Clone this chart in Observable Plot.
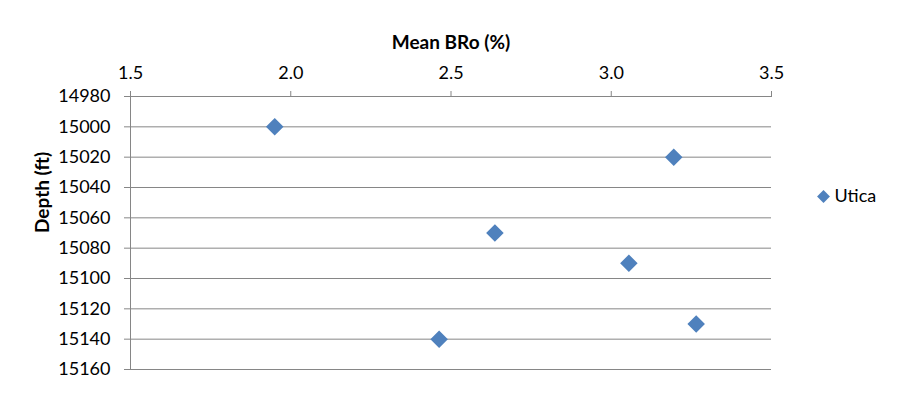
<!DOCTYPE html>
<html>
<head>
<meta charset="utf-8">
<script src="https://cdn.jsdelivr.net/npm/d3@7"></script>
<script src="https://cdn.jsdelivr.net/npm/@observablehq/plot@0.6"></script>
<style>
  html, body { margin: 0; padding: 0; background: #fff; }
  #chart svg { display: block; }
</style>
</head>
<body>
<div id="chart"></div>
<script>
const series = "Utica";
const meanBRo = [1.95, 3.195, 2.637, 3.055, 3.265, 2.463];
const depthFt = [15000, 15020, 15070, 15090, 15130, 15140];
const xTicks = [1.5, 2.0, 2.5, 3.0, 3.5];
const yTicks = [14980, 15000, 15020, 15040, 15060, 15080, 15100, 15120, 15140, 15160];
const xTitle = "Mean BRo (%)";
const yTitle = "Depth (ft)";

const data = meanBRo.map((v, i) => ({ x: v, y: depthFt[i], series }));
const color = "#4F81BD";
const grid = "#868686";
const font = "Lato, 'Open Sans', sans-serif";

const chart = Plot.plot({
  width: 900,
  height: 393,
  marginLeft: 130,
  marginRight: 129,
  marginTop: 96,
  marginBottom: 24,
  style: { fontFamily: font, fontSize: "18px", color: "#000", background: "#fff" },
  x: { domain: [1.5, 3.5], axis: null },
  y: { domain: [14980, 15160], reverse: true, axis: null },
  marks: [
    Plot.gridY(yTicks, { stroke: grid, strokeOpacity: 1, strokeWidth: 1 }),
    Plot.ruleX([1.5], { stroke: grid, strokeWidth: 1 }),
    Plot.axisX(xTicks, {
      anchor: "top", tickSize: 6, tickPadding: 12, stroke: grid,
      tickFormat: d3.format(".1f"), label: null, fontSize: 18, fill: "#000"
    }),
    Plot.ruleY([14980], { stroke: grid, strokeWidth: 1 }),
    Plot.axisY(yTicks, {
      anchor: "left", tickSize: 6, tickPadding: 14, stroke: grid,
      tickFormat: d3.format("d"), label: null, fontSize: 18, fill: "#000"
    }),
    Plot.dot(data, {
      x: "x", y: "y", symbol: "diamond2", r: 7.9, fill: color, stroke: null
    }),
    Plot.text([xTitle], {
      frameAnchor: "top", dy: -54, lineAnchor: "middle", text: d => d, fontWeight: "bold", fontSize: 19, fill: "#000"
    }),
    Plot.text([yTitle], {
      frameAnchor: "left", dx: -88, rotate: -90, lineAnchor: "middle", text: d => d, fontWeight: "bold", fontSize: 19, fill: "#000"
    }),
    Plot.dot([series], {
      frameAnchor: "top-right", dx: 52, dy: 100, symbol: "diamond2", r: 5.8, fill: color, stroke: null
    }),
    Plot.text([series], {
      frameAnchor: "top-right", dx: 63, dy: 100, lineAnchor: "middle", text: d => d, textAnchor: "start", fontSize: 18, fill: "#000"
    })
  ]
});
document.getElementById("chart").appendChild(chart);
</script>
</body>
</html>
